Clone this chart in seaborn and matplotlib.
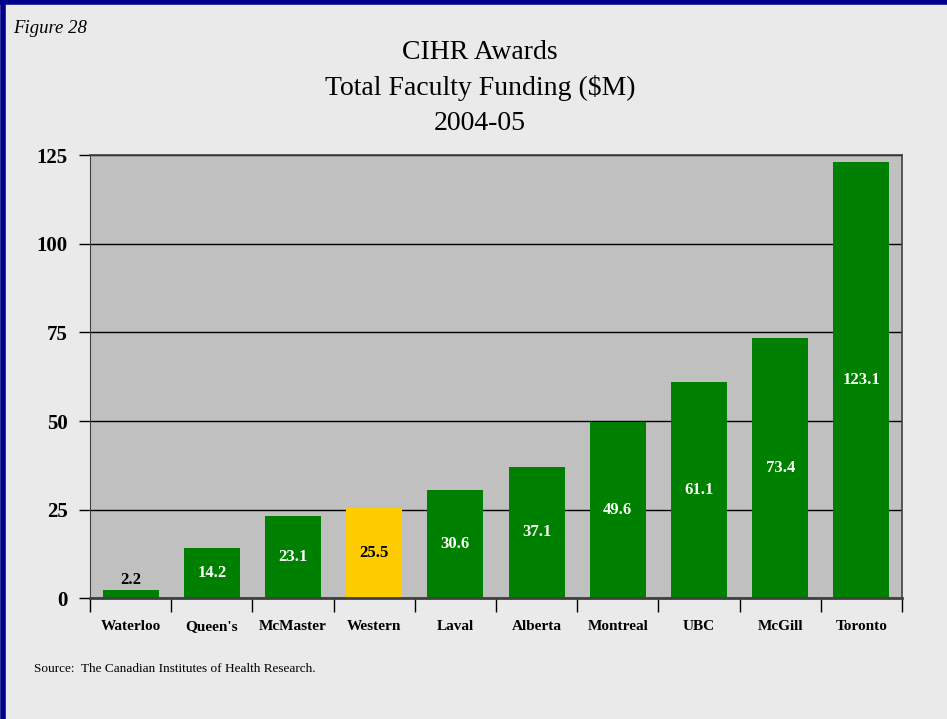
import matplotlib
matplotlib.use('Agg')
import matplotlib.pyplot as plt
import seaborn as sns
import numpy as np
import pandas as pd
from matplotlib.ticker import FixedLocator

# Data
universities = ["Waterloo", "Queen's", "McMaster", "Western", "Laval",
                "Alberta", "Montreal", "UBC", "McGill", "Toronto"]
funding = [2.2, 14.2, 23.1, 25.5, 30.6, 37.1, 49.6, 61.1, 73.4, 123.1]
highlight = "Western"
y_ticks = [0, 25, 50, 75, 100, 125]

GREEN = "#008000"
YELLOW = "#FFCC00"
FIG_BG = "#EAEAEA"
PLOT_BG = "#C0C0C0"

df = pd.DataFrame({"university": universities, "funding": funding})
colors = [YELLOW if u == highlight else GREEN for u in universities]

sns.set_style("white")
plt.rcParams['font.family'] = ['Liberation Serif', 'DejaVu Serif']
plt.rcParams['text.color'] = 'black'
plt.rcParams['xtick.labelcolor'] = 'black'
plt.rcParams['ytick.labelcolor'] = 'black'

fig = plt.figure(figsize=(9.47, 7.19), dpi=100, facecolor=FIG_BG)
ax = fig.add_axes([0.095, 0.168, 0.8575, 0.616])
ax.set_facecolor(PLOT_BG)

sns.barplot(data=df, x="university", y="funding", hue="university",
            palette=colors, width=0.69, saturation=1, legend=False,
            linewidth=0, ax=ax)

ax.set_ylim(0, 125)
ax.set_xlim(-0.5, len(universities) - 0.5)
ax.set_yticks(y_ticks)
ax.yaxis.grid(True, color="black", linewidth=1)
ax.set_axisbelow(True)

# spines
for side in ["top", "right"]:
    ax.spines[side].set_color("#404040")
    ax.spines[side].set_linewidth(1.2)
ax.spines["left"].set_color("#404040")
ax.spines["bottom"].set_color("#404040")
ax.spines["bottom"].set_linewidth(2)

ax.set_xlabel("")
ax.set_ylabel("")
ax.tick_params(axis="y", left=True, direction="out", length=8, width=1, color="black",
               labelcolor="black", labelsize=15, pad=8)
for lab in ax.get_yticklabels():
    lab.set_fontweight("bold")

# x ticks: labels at centres, tick marks between categories
ax.tick_params(axis="x", which="major", length=0, labelsize=11, pad=16,
               labelcolor="black")
ax.xaxis.set_minor_locator(FixedLocator(np.arange(-0.5, len(universities), 1.0)))
ax.tick_params(axis="x", which="minor", bottom=True, direction="out", length=10,
               width=1, color="black")
for lab in ax.get_xticklabels():
    lab.set_fontweight("bold")

# value labels
for i, (u, v) in enumerate(zip(universities, funding)):
    if v < 5:
        ax.text(i, v + 0.6, f"{v:.1f}", ha="center", va="bottom",
                fontsize=12, fontweight="bold", color="black")
    else:
        col = "black" if u == highlight else "white"
        ax.text(i, v / 2, f"{v:.1f}", ha="center", va="center",
                fontsize=12, fontweight="bold", color=col)

fig.text(0.507, 0.944, "CIHR Awards\nTotal Faculty Funding (\\$M)\n2004-05",
         ha="center", va="top", fontsize=20, linespacing=1.5, color="black")
fig.text(0.014, 0.960, "Figure 28", fontsize=13.5, style="italic", va="center",
         color="black")
fig.text(0.036, 0.069, "Source:  The Canadian Institutes of Health Research.",
         fontsize=9.5, va="center", color="black")

# navy frame on top and left edge
fig.add_artist(plt.Line2D([0.003, 0.003], [0, 1], color="#00008B", linewidth=4,
                          transform=fig.transFigure))
fig.add_artist(plt.Line2D([0, 1], [0.997, 0.997], color="#00008B", linewidth=4,
                          transform=fig.transFigure))

fig.savefig("out.png", dpi=100, facecolor=FIG_BG)
